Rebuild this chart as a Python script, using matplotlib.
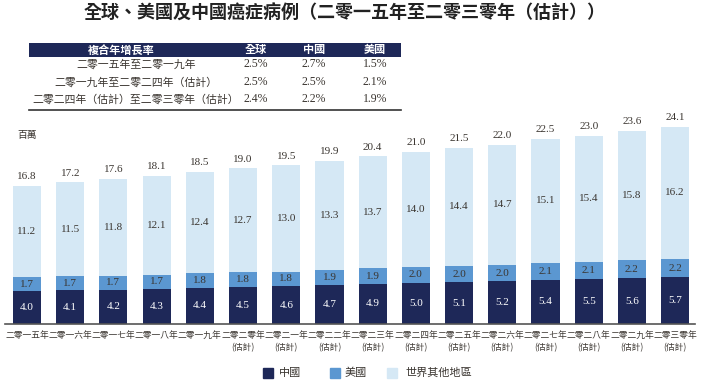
import matplotlib
matplotlib.use("Agg")
import matplotlib.pyplot as plt
import numpy as np

plt.rcParams['font.family'] = ['Noto Sans CJK TC', 'DejaVu Sans']

years = ["二零一五年", "二零一六年", "二零一七年", "二零一八年", "二零一九年",
         "二零二零年", "二零二一年", "二零二二年", "二零二三年", "二零二四年",
         "二零二五年", "二零二六年", "二零二七年", "二零二八年", "二零二九年", "二零三零年"]
estimated = [False]*5 + [True]*11
china = [4.0, 4.1, 4.2, 4.3, 4.4, 4.5, 4.6, 4.7, 4.9, 5.0, 5.1, 5.2, 5.4, 5.5, 5.6, 5.7]
usa = [1.7, 1.7, 1.7, 1.7, 1.8, 1.8, 1.8, 1.9, 1.9, 2.0, 2.0, 2.0, 2.1, 2.1, 2.2, 2.2]
rest = [11.2, 11.5, 11.8, 12.1, 12.4, 12.7, 13.0, 13.3, 13.7, 14.0, 14.4, 14.7, 15.1, 15.4, 15.8, 16.2]
totals = [16.8, 17.2, 17.6, 18.1, 18.5, 19.0, 19.5, 19.9, 20.4, 21.0, 21.5, 22.0, 22.5, 23.0, 23.6, 24.1]

table_header = ["複合年增長率", "全球", "中國", "美國"]
table_rows = [
    ["二零一五年至二零一九年", "2.5%", "2.7%", "1.5%"],
    ["二零一九年至二零二四年（估計）", "2.5%", "2.5%", "2.1%"],
    ["二零二四年（估計）至二零三零年（估計）", "2.4%", "2.2%", "1.9%"],
]
legend_labels = ["中國", "美國", "世界其他地區"]

c_china = "#1e2858"
c_us = "#5b97d1"
c_rest = "#d5e8f5"
txt = "#3a3530"
num_font = "Liberation Serif"

W, H = 707, 382
fig = plt.figure(figsize=(W/100, H/100), dpi=100)

def px(x, y):
    return x / W, 1 - y / H

# title
fig.text(*px(345, 13), "全球、美國及中國癌症病例（二零一五年至二零三零年（估計））",
         ha="center", va="center", fontsize=13, fontweight="bold", color="#222222")

# table
tl, tr = 29, 401
hdr = fig.add_axes([tl/W, 1-57/H, (tr-tl)/W, 14/H])
hdr.set_facecolor(c_china)
hdr.set_xticks([]); hdr.set_yticks([])
for s in hdr.spines.values():
    s.set_visible(False)
col_x = [121, 256, 314, 375]
for i, h in enumerate(table_header):
    fig.text(*px(col_x[i], 50), h, ha="center", va="center", fontsize=8,
             fontweight="bold", color="white")
row_y = [64, 82, 99]
for r, row in enumerate(table_rows):
    fig.text(*px(136, row_y[r]), row[0], ha="center", va="center", fontsize=7.8, color=txt)
    for j in range(1, 4):
        fig.text(*px(col_x[j], row_y[r]), row[j], ha="center", va="center",
                 fontsize=8.5, color=txt, family=num_font)
fig.add_artist(plt.Line2D([tl/W, tr/W], [1-110/H, 1-110/H], color="#333333", lw=1.2))

# bar axes
left, right, bottom_px, top_px = 5, 695, 324, 111
ax = fig.add_axes([left/W, 1-bottom_px/H, (right-left)/W, (bottom_px-top_px)/H])
x = np.arange(len(years))
bw = 0.65
ax.bar(x, china, bw, color=c_china)
ax.bar(x, usa, bw, bottom=china, color=c_us)
bot2 = np.array(china) + np.array(usa)
ax.bar(x, rest, bw, bottom=bot2, color=c_rest)
ax.set_xlim(-0.51, 15.46)
ax.set_ylim(0, 26)
for i in x:
    ax.text(i, china[i]/2, f"{china[i]:.1f}", ha="center", va="center", color="white",
            fontsize=8, family=num_font)
    ax.text(i, china[i] + usa[i]/2, f"{usa[i]:.1f}", ha="center", va="center", color=txt,
            fontsize=8, family=num_font)
    ax.text(i, bot2[i] + rest[i]/2, f"{rest[i]:.1f}", ha="center", va="center", color=txt,
            fontsize=8, family=num_font)
    ax.text(i, bot2[i] + rest[i] + 0.55, f"{totals[i]:.1f}", ha="center", va="bottom", color=txt,
            fontsize=8, family=num_font)
for s in ["top", "right", "left"]:
    ax.spines[s].set_visible(False)
ax.spines["bottom"].set_color("#555555")
ax.spines["bottom"].set_linewidth(1.2)
ax.set_yticks([])
ax.set_xticks(x)
ax.set_xticklabels([y + ("\n(估計)" if e else "") for y, e in zip(years, estimated)],
                   fontsize=6.3, color=txt, linespacing=1.5, va="top")
ax.tick_params(axis="x", length=0, pad=5)

fig.text(*px(17, 135), "百萬", ha="left", va="center", fontsize=7, color=txt)

# legend
leg_items = [(268, 279, c_china, legend_labels[0]),
             (335, 345, c_us, legend_labels[1]),
             (392, 405, c_rest, legend_labels[2])]
for sx, tx, c, lab in leg_items:
    fig.add_artist(plt.Rectangle(((sx-5)/W, 1-(373+5)/H), 10/W, 10/H, color=c,
                                 transform=fig.transFigure))
    fig.text(*px(tx, 373), lab, ha="left", va="center", fontsize=8, color=txt)

fig.savefig("out.png", dpi=100)
